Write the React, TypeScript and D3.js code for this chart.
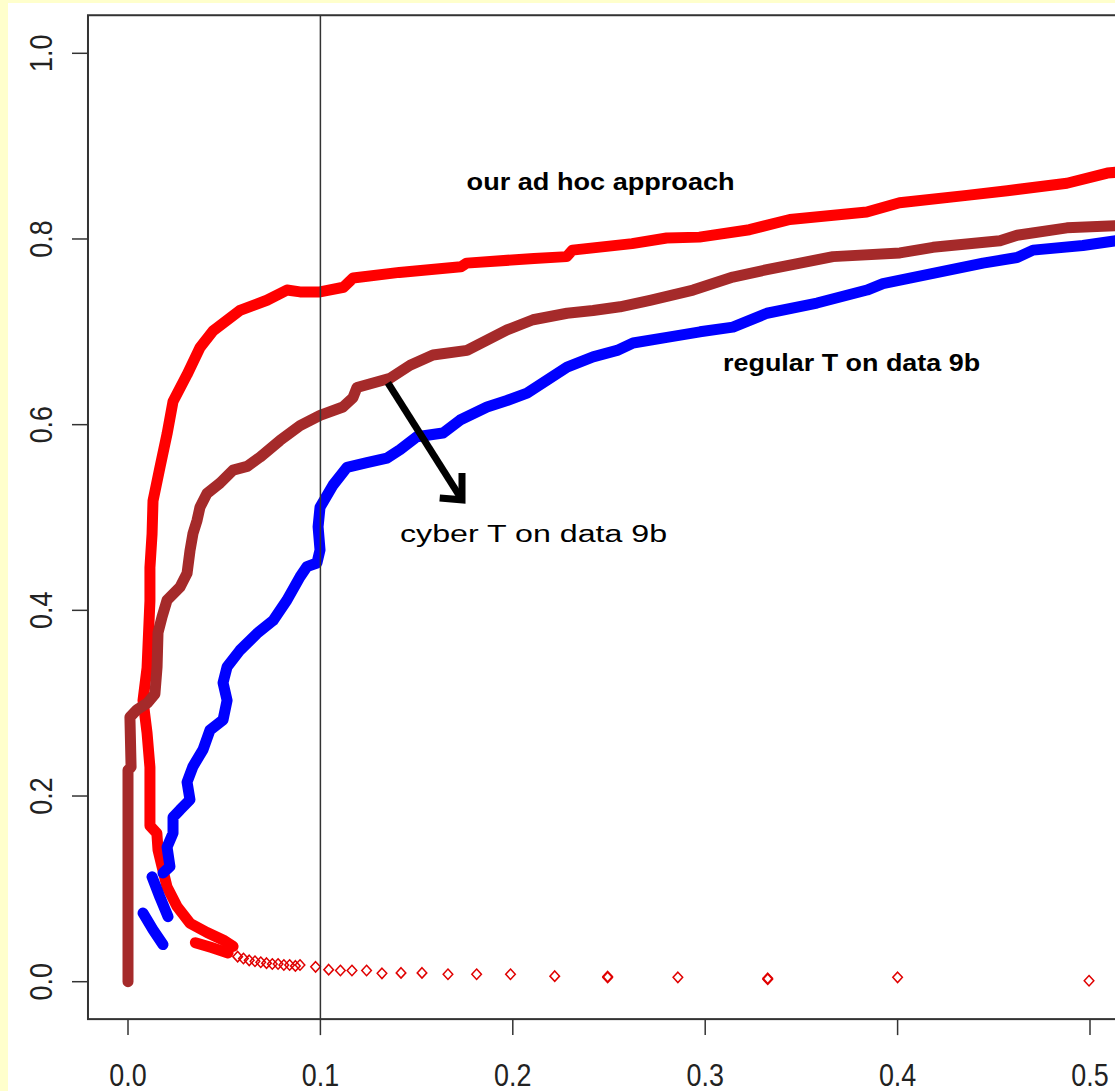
import React from "react";
import * as d3 from "d3";

// ---- data (x = false positive rate, y = rate) ----
const xTicks = [0, 0.1, 0.2, 0.3, 0.4, 0.5];
const yTicks = [0, 0.2, 0.4, 0.6, 0.8, 1.0];
const cutoff = 0.1;

// "our ad hoc approach" – thick dense part
const adHocCurve: [number, number][] = [
  [0.0546, 0.038], [0.0494, 0.045], [0.0411, 0.053], [0.0322, 0.063], [0.0255, 0.081],
  [0.0203, 0.102], [0.0177, 0.124], [0.0156, 0.142], [0.015, 0.16], [0.0114, 0.168],
  [0.0114, 0.231], [0.0099, 0.268], [0.0078, 0.303], [0.0099, 0.338], [0.0114, 0.41],
  [0.0114, 0.446], [0.0125, 0.482], [0.013, 0.518], [0.0166, 0.554], [0.0203, 0.59],
  [0.0234, 0.625], [0.0307, 0.654], [0.0374, 0.683], [0.0442, 0.701], [0.0582, 0.723],
  [0.0722, 0.734], [0.0826, 0.745], [0.0894, 0.743], [0.0998, 0.743], [0.112, 0.748],
  [0.117, 0.758], [0.141, 0.764], [0.173, 0.77], [0.176, 0.774], [0.211, 0.779],
  [0.228, 0.781], [0.231, 0.788], [0.262, 0.795], [0.28, 0.801], [0.297, 0.802],
  [0.323, 0.81], [0.344, 0.821], [0.384, 0.829], [0.401, 0.839], [0.436, 0.847],
  [0.457, 0.852], [0.488, 0.86], [0.509, 0.871], [0.52, 0.873],
];
const adHocStep: [number, number][] = [[0.035, 0.042], [0.043, 0.037], [0.052, 0.031]];
// sparse tail drawn as open diamonds
const adHocTail: [number, number][] = [
  [0.057, 0.027], [0.06, 0.025], [0.063, 0.023], [0.066, 0.022], [0.069, 0.021],
  [0.072, 0.02], [0.075, 0.019], [0.078, 0.019], [0.081, 0.018], [0.084, 0.018],
  [0.087, 0.017], [0.0894, 0.018], [0.0975, 0.016], [0.1043, 0.013], [0.1104, 0.012],
  [0.1164, 0.012], [0.124, 0.012], [0.132, 0.009], [0.1419, 0.0095], [0.1528, 0.0095],
  [0.1663, 0.008], [0.1812, 0.008], [0.1988, 0.008], [0.2218, 0.006], [0.2493, 0.0045],
  [0.2493, 0.0055], [0.2858, 0.0047], [0.3325, 0.0026], [0.3325, 0.0036], [0.4, 0.0047],
  [0.4995, 0.001],
];

// "regular T on data 9b"
const regularT: [number, number][] = [
  [0, 0], [0, 0.228], [0.0016, 0.231], [0.001, 0.285], [0.0047, 0.293], [0.01, 0.3],
  [0.014, 0.31], [0.0151, 0.339], [0.0156, 0.376], [0.0177, 0.393], [0.0203, 0.411],
  [0.027, 0.425], [0.0307, 0.44], [0.0322, 0.464], [0.0338, 0.483], [0.0359, 0.497],
  [0.0374, 0.511], [0.0411, 0.526], [0.0478, 0.537], [0.0546, 0.551], [0.0619, 0.555],
  [0.0686, 0.565], [0.079, 0.583], [0.0894, 0.599], [0.0998, 0.61], [0.1117, 0.619],
  [0.1169, 0.629], [0.119, 0.64], [0.1362, 0.65], [0.1466, 0.664], [0.1585, 0.675],
  [0.1762, 0.68], [0.1866, 0.691], [0.197, 0.702], [0.2105, 0.713], [0.2282, 0.72],
  [0.2417, 0.723], [0.2557, 0.727], [0.2713, 0.734], [0.2937, 0.745], [0.3144, 0.759],
  [0.3321, 0.767], [0.3493, 0.774], [0.3664, 0.781], [0.4012, 0.785], [0.4184, 0.791],
  [0.4532, 0.798], [0.4621, 0.804], [0.488, 0.812], [0.52, 0.815],
];

// "cyber T on data 9b"
const cyberT: [number, number][] = [
  [0.0182, 0.117], [0.0218, 0.124], [0.0203, 0.145], [0.0234, 0.16], [0.0234, 0.177],
  [0.027, 0.185], [0.0322, 0.196], [0.0307, 0.215], [0.0338, 0.232], [0.039, 0.25],
  [0.0426, 0.271], [0.0494, 0.282], [0.0515, 0.303], [0.0494, 0.322], [0.0515, 0.339],
  [0.0582, 0.357], [0.067, 0.375], [0.0754, 0.389], [0.0826, 0.411], [0.0894, 0.436],
  [0.093, 0.447], [0.0982, 0.451], [0.0998, 0.465], [0.0988, 0.49], [0.0998, 0.511],
  [0.1066, 0.535], [0.1138, 0.554], [0.1242, 0.559], [0.1346, 0.564], [0.1414, 0.573],
  [0.1502, 0.587], [0.1637, 0.591], [0.1726, 0.605], [0.1866, 0.619], [0.197, 0.626],
  [0.2074, 0.634], [0.2178, 0.648], [0.2282, 0.662], [0.2417, 0.673], [0.2542, 0.68],
  [0.2625, 0.688], [0.2801, 0.694], [0.2973, 0.7], [0.3144, 0.705], [0.3321, 0.72],
  [0.3581, 0.731], [0.3841, 0.745], [0.3924, 0.752], [0.4184, 0.763], [0.4444, 0.774],
  [0.4621, 0.78], [0.4704, 0.788], [0.4963, 0.793], [0.52, 0.8],
];
const cyberTSegA: [number, number][] = [[0.0125, 0.113], [0.0166, 0.091], [0.0208, 0.07]];
const cyberTSegB: [number, number][] = [[0.0078, 0.074], [0.013, 0.056], [0.0182, 0.04]];

// annotation arrow (data coordinates): shaft start, tip, and the two head ends
const arrowShaft: [number, number][] = [[0.1351, 0.645], [0.1736, 0.519]];
const arrowHead: [number, number][] = [[0.1736, 0.548], [0.1736, 0.519], [0.162, 0.521]];

const labels = [
  { text: "our ad hoc approach", x: 0.176, y: 0.853, weight: 700, len: 268 },
  { text: "regular T on data 9b", x: 0.3093, y: 0.658, weight: 700, len: 257 },
  { text: "cyber T on data 9b", x: 0.1414, y: 0.474, weight: 400, len: 267 },
];

const W = 1115;
const H = 1091;

export default function App() {
  const x = d3.scaleLinear().domain([0, 0.5]).range([128, 1090]);
  const y = d3.scaleLinear().domain([0, 1]).range([981.7, 53.3]);

  const line = d3
    .line<[number, number]>()
    .x((d) => x(d[0]))
    .y((d) => y(d[1]));

  const boxL = x(-0.0208);
  const boxR = x(0.5408);
  const boxT = y(1.041);
  const boxB = y(-0.0403);

  const diamond = (cx: number, cy: number) =>
    `M${cx},${cy - 5.2}L${cx + 4.8},${cy}L${cx},${cy + 5.2}L${cx - 4.8},${cy}Z`;

  const thick = {
    fill: "none",
    strokeWidth: 11,
    strokeLinejoin: "round" as const,
    strokeLinecap: "round" as const,
  };

  return (
    <svg
      width={W}
      height={H}
      style={{ position: "absolute", left: 0, top: 0, display: "block", overflow: "hidden" }}
      fontFamily="Arial, 'Liberation Sans', sans-serif"
    >
      <rect x={0} y={0} width={W} height={H} fill="#FFFFCC" />
      <rect x={8} y={3} width={W - 8} height={H - 3} fill="#FFFFFF" />

      {/* curves */}
      <path d={line(adHocCurve) || ""} stroke="#FF0000" {...thick} />
      <path d={line(adHocStep) || ""} stroke="#FF0000" {...thick} />
      {adHocTail.map((d, i) => (
        <path key={i} d={diamond(x(d[0]), y(d[1]))} fill="none" stroke="#E00000" strokeWidth={1.5} />
      ))}
      <path d={line(regularT) || ""} stroke="#A52A2A" {...thick} />
      <path d={line(cyberT) || ""} stroke="#0000FF" {...thick} />
      <path d={line(cyberTSegA) || ""} stroke="#0000FF" {...thick} />
      <path d={line(cyberTSegB) || ""} stroke="#0000FF" {...thick} />

      {/* cutoff line */}
      <line x1={x(cutoff)} x2={x(cutoff)} y1={boxT} y2={boxB} stroke="#333" strokeWidth={1.5} />

      {/* plot box */}
      <rect x={boxL} y={boxT} width={boxR - boxL} height={boxB - boxT} fill="none" stroke="#333" strokeWidth={2} />

      {/* x axis */}
      {xTicks.map((t) => (
        <g key={`x${t}`}>
          <line x1={x(t)} x2={x(t)} y1={boxB} y2={boxB + 16} stroke="#333" strokeWidth={1.5} />
          <text
            transform={`translate(${x(t)},${1086}) scale(0.84,1)`}
            textAnchor="middle"
            fontSize={32}
            fill="#222"
          >
            {t.toFixed(1)}
          </text>
        </g>
      ))}

      {/* y axis */}
      {yTicks.map((t) => (
        <g key={`y${t}`}>
          <line x1={boxL} x2={boxL - 16} y1={y(t)} y2={y(t)} stroke="#333" strokeWidth={1.5} />
          <text
            transform={`translate(${52},${y(t)}) rotate(-90) scale(0.84,1)`}
            textAnchor="middle"
            fontSize={32}
            fill="#222"
          >
            {t.toFixed(1)}
          </text>
        </g>
      ))}

      {/* annotations */}
      {labels.map((l) => (
        <text
          key={l.text}
          x={x(l.x)}
          y={y(l.y)}
          fontSize={23}
          fontWeight={l.weight}
          textLength={l.len}
          lengthAdjust="spacingAndGlyphs"
          fill="#000"
        >
          {l.text}
        </text>
      ))}
      <path d={line(arrowShaft) || ""} stroke="#000" strokeWidth={7} fill="none" strokeLinecap="butt" />
      <path
        d={line(arrowHead) || ""}
        stroke="#000"
        strokeWidth={7}
        fill="none"
        strokeLinejoin="miter"
        strokeLinecap="butt"
      />
    </svg>
  );
}
